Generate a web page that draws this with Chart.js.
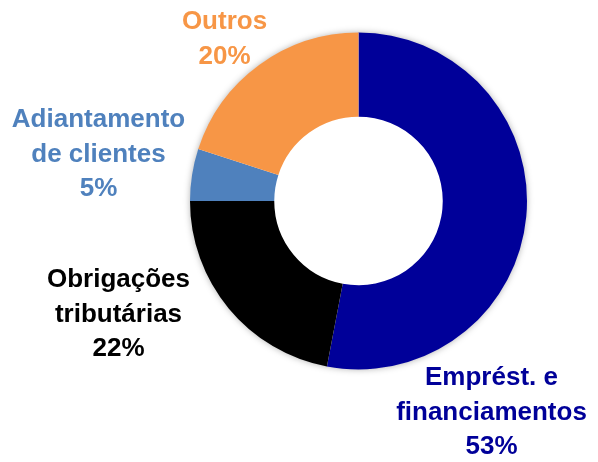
<!DOCTYPE html>
<html lang="pt">
<head>
  <meta charset="UTF-8">
  <title>Composição do passivo</title>
  <style>
    html, body { margin: 0; padding: 0; background: #fff; }
    #wrap { position: relative; width: 598px; height: 462px; }
  </style>
</head>
<body>
  <div id="wrap">
    <canvas id="chart" role="img" aria-label="Gráfico de rosca: Emprést. e financiamentos 53%, Obrigações tributárias 22%, Adiantamento de clientes 5%, Outros 20%"></canvas>
  </div>

  <script src="https://cdn.jsdelivr.net/npm/chart.js@4.4.1/dist/chart.umd.min.js"></script>
  <script>
    // data
    const categories = [
      ['Emprést. e', 'financiamentos'],
      ['Obrigações', 'tributárias'],
      ['Adiantamento', 'de clientes'],
      ['Outros']
    ];
    const shares = [53, 22, 5, 20];
    const colors = ['#000099', '#000000', '#4F81BD', '#F79646'];

    // where each label block sits, relative to the doughnut centre
    const labelOffsets = [[133, 209], [-240, 111], [-260, -49], [-134, -164]];
    const lineHeight = 34.5;

    const ringShadow = {
      id: 'ringShadow',
      beforeDatasetsDraw(chart) {
        const arc = chart.getDatasetMeta(0).data[0];
        if (!arc) return;
        const ctx = chart.ctx;
        ctx.save();
        ctx.shadowColor = 'rgba(0,0,0,0.35)';
        ctx.shadowBlur = 7;
        ctx.fillStyle = '#fff';
        ctx.beginPath();
        ctx.arc(arc.x, arc.y, arc.outerRadius - 0.5, 0, Math.PI * 2);
        ctx.fill();
        ctx.restore();
      }
    };

    const sliceLabels = {
      id: 'sliceLabels',
      afterDatasetsDraw(chart) {
        const meta = chart.getDatasetMeta(0);
        const ctx = chart.ctx;
        ctx.save();
        ctx.font = 'bold 26px "Liberation Sans", Arial, sans-serif';
        ctx.textAlign = 'center';
        ctx.textBaseline = 'alphabetic';
        meta.data.forEach((arc, i) => {
          const lines = categories[i].concat([shares[i] + '%']);
          const cx = arc.x + labelOffsets[i][0];
          const cy = arc.y + labelOffsets[i][1];
          const top = cy - (lines.length - 1) * lineHeight / 2;
          ctx.fillStyle = colors[i];
          lines.forEach((t, k) => {
            ctx.fillText(t, cx, top + k * lineHeight + 9.5);
          });
        });
        ctx.restore();
      }
    };

    new Chart(document.getElementById('chart'), {
      type: 'doughnut',
      data: {
        labels: categories.map(c => c.join(' ')),
        datasets: [{
          data: shares,
          backgroundColor: colors,
          borderWidth: 0,
          hoverOffset: 0
        }]
      },
      options: {
        responsive: true,
        maintainAspectRatio: false,
        animation: false,
        cutout: '50%',
        layout: { padding: { left: 189.5, right: 70.5, top: 32.5, bottom: 92.5 } },
        plugins: {
          legend: { display: false },
          tooltip: { enabled: false }
        }
      },
      plugins: [ringShadow, sliceLabels]
    });
  </script>
</body>
</html>
